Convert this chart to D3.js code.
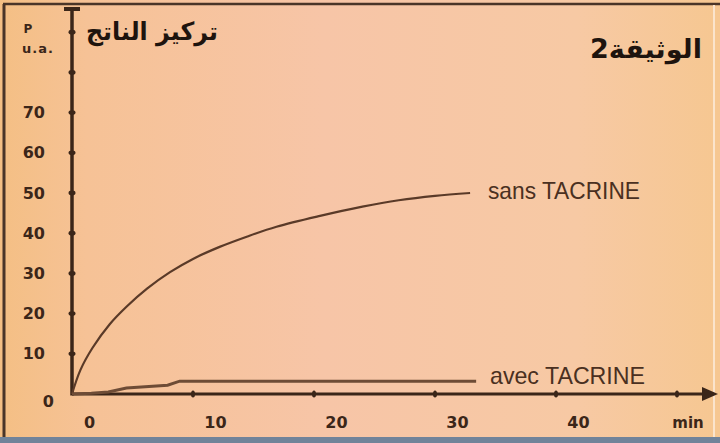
<!DOCTYPE html>
<html><head><meta charset="utf-8">
<script src="https://cdn.jsdelivr.net/npm/d3@7"></script>
<style>html,body{margin:0;padding:0;background:#f6c59e;}svg{display:block;}</style>
</head><body>
<script>
// ---- data ----
const xTickValues = [0, 10, 20, 30, 40];
const xTickMarks = [10, 20, 30, 40, 50];
const yTickValues = [0, 10, 20, 30, 40, 50, 60, 70];
const yTickMarks = [10, 20, 30, 40, 50, 60, 70, 80, 90];
const sansTime  = [0, 0.7, 1.7, 3.1, 4.5, 6.2, 8.1, 10, 12.2, 14.5, 16.9, 20.5, 24, 27, 30, 32.9];
const sansValue = [0, 6, 11.5, 17.3, 21.7, 26.2, 30.3, 33.6, 36.6, 39.2, 41.6, 44.3, 46.6, 48.2, 49.3, 50];
const avecTime  = [0, 1.6, 3.0, 4.5, 7.9, 8.9, 33.4];
const avecValue = [0, 0.2, 0.5, 1.5, 2.2, 3.2, 3.2];
const seriesLabels = ["sans TACRINE", "avec TACRINE"];
const yTitle = "تركيز الناتج";
const docTitle = "الوثيقة2";
const xUnit = "min";

const W = 720, H = 443;
const svg = d3.select("body").append("svg").attr("width", W).attr("height", H);
const defs = svg.append("defs");
const g1 = defs.append("linearGradient").attr("id", "bg").attr("x1", 0).attr("x2", 1).attr("y1", 0).attr("y2", 0);
[["0%", "#f4bf84"], ["12%", "#f6c296"], ["45%", "#f7c5a7"], ["80%", "#f7c9a4"], ["100%", "#f6c791"]]
  .forEach(([o, c]) => g1.append("stop").attr("offset", o).attr("stop-color", c));
svg.append("rect").attr("width", W).attr("height", H).attr("fill", "url(#bg)");

// frame
svg.append("rect").attr("x", 0).attr("y", 437).attr("width", W).attr("height", 6).attr("fill", "#71839a");
svg.append("line").attr("x1", 4).attr("x2", 4).attr("y1", 4).attr("y2", 437).attr("stroke", "#4a3528").attr("stroke-width", 3);
svg.append("line").attr("x1", 3).attr("x2", W).attr("y1", 4).attr("y2", 4).attr("stroke", "#4a3528").attr("stroke-width", 2.5);
svg.append("line").attr("x1", 714).attr("x2", 714).attr("y1", 5).attr("y2", 437).attr("stroke", "#fbe4cc").attr("stroke-width", 2);

const ink = "#3b2619";
const x = d3.scaleLinear().domain([0, 50]).range([72, 677]);
const y = d3.scaleLinear().domain([0, 90]).range([394, 32.2]);

// axes lines
svg.append("line").attr("x1", x(0)).attr("x2", 706).attr("y1", y(0)).attr("y2", y(0)).attr("stroke", ink).attr("stroke-width", 3);
svg.append("path").attr("d", `M702,${y(0)-7}L718,${y(0)}L702,${y(0)+7}Z`).attr("fill", ink);
svg.append("line").attr("x1", x(0)).attr("x2", x(0)).attr("y1", 8).attr("y2", y(0) + 1.5).attr("stroke", ink).attr("stroke-width", 3.5);
svg.append("line").attr("x1", x(0) - 8).attr("x2", x(0) + 8).attr("y1", 9).attr("y2", 9).attr("stroke", ink).attr("stroke-width", 4);

// tick dots
svg.selectAll(".xt").data(xTickMarks).join("ellipse").attr("cx", d => x(d)).attr("cy", y(0))
  .attr("rx", 2).attr("ry", 3.5).attr("fill", ink);
svg.selectAll(".yt").data(yTickMarks).join("ellipse").attr("cx", x(0)).attr("cy", d => y(d))
  .attr("rx", 3.5).attr("ry", 2.4).attr("fill", ink);

// axis labels via d3 axes
const xAxis = svg.append("g").attr("transform", `translate(0,${y(0)})`)
  .call(d3.axisBottom(x).tickValues(xTickValues).tickSize(0).tickPadding(23));
xAxis.select(".domain").remove();
xAxis.selectAll("text").attr("dx", d => d === 0 ? 17 : 22)
  .attr("font-family", "DejaVu Sans").attr("font-weight", "bold").attr("font-size", 16).attr("fill", ink);

const yAxis = svg.append("g").attr("transform", `translate(${x(0)},0)`)
  .call(d3.axisLeft(y).tickValues(yTickValues).tickSize(0).tickPadding(27));
yAxis.select(".domain").remove();
yAxis.selectAll("text").attr("dx", d => d === 0 ? 9 : 0).attr("dy", d => d === 0 ? "0.78em" : "0.32em")
  .attr("font-family", "DejaVu Sans").attr("font-weight", "bold").attr("font-size", 16).attr("fill", ink);

// curves
const sansData = sansTime.map((t, i) => [t, sansValue[i]]);
const avecData = avecTime.map((t, i) => [t, avecValue[i]]);
svg.append("path").datum(sansData)
  .attr("d", d3.line().x(d => x(d[0])).y(d => y(d[1])).curve(d3.curveCatmullRom))
  .attr("fill", "none").attr("stroke", "#5a3a28").attr("stroke-width", 2.2);
svg.append("path").datum(avecData)
  .attr("d", d3.line().x(d => x(d[0])).y(d => y(d[1])))
  .attr("fill", "none").attr("stroke", "#6e4c36").attr("stroke-width", 3);

// series labels
const lblFont = "'Liberation Sans Narrow', 'Liberation Sans', sans-serif";
svg.append("text").attr("x", 488).attr("y", 199).attr("font-family", lblFont).attr("font-size", 24)
  .attr("fill", "#4a3021").attr("textLength", 152).attr("lengthAdjust", "spacingAndGlyphs").text(seriesLabels[0]);
svg.append("text").attr("x", 490).attr("y", 384).attr("font-family", lblFont).attr("font-size", 24)
  .attr("fill", "#4a3021").attr("textLength", 155).attr("lengthAdjust", "spacingAndGlyphs").text(seriesLabels[1]);

// units / titles
svg.append("text").attr("x", 28).attr("y", 33).attr("text-anchor", "middle").attr("font-family", "DejaVu Sans")
  .attr("font-weight", "bold").attr("font-size", 12).attr("fill", ink).text("P");
svg.append("text").attr("x", 38).attr("y", 53).attr("text-anchor", "middle").attr("font-family", "DejaVu Sans")
  .attr("font-weight", "bold").attr("font-size", 13).attr("letter-spacing", 1).attr("fill", ink).text("u.a.");
svg.append("text").attr("x", 688).attr("y", 428).attr("text-anchor", "middle").attr("font-family", "DejaVu Sans")
  .attr("font-weight", "bold").attr("font-size", 15).attr("fill", ink).text(xUnit);
svg.append("text").attr("x", 152).attr("y", 40).attr("text-anchor", "middle").attr("font-family", "DejaVu Sans")
  .attr("font-weight", "bold").attr("font-size", 25).attr("fill", "#1e140e").attr("direction", "rtl")
  .attr("textLength", 132).attr("lengthAdjust", "spacingAndGlyphs").text(yTitle);
svg.append("text").attr("x", 646).attr("y", 58).attr("text-anchor", "middle").attr("font-family", "DejaVu Sans")
  .attr("font-weight", "bold").attr("font-size", 26).attr("fill", "#1e140e")
  .attr("textLength", 112).attr("lengthAdjust", "spacingAndGlyphs").text(docTitle);
</script>
</body></html>
